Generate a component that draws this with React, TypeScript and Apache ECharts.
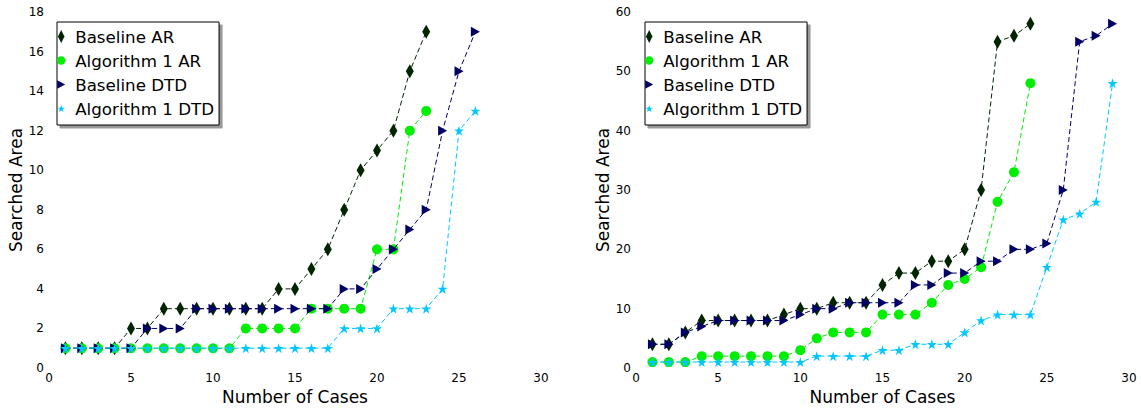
import React, { useEffect, useRef } from 'react';
import * as echarts from 'echarts';

const FONT = 'DejaVu Sans';

const seriesNames = ['Baseline AR', 'Algorithm 1 AR', 'Baseline DTD', 'Algorithm 1 DTD'];

// Left chart (values per case number 1..n)
const leftBaselineAR = [1, 1, 1, 1, 2, 2, 3, 3, 3, 3, 3, 3, 3, 4, 4, 5, 6, 8, 10, 11, 12, 15, 17];
const leftAlgorithmAR = [1, 1, 1, 1, 1, 1, 1, 1, 1, 1, 1, 2, 2, 2, 2, 3, 3, 3, 3, 6, 6, 12, 13];
const leftBaselineDTD = [1, 1, 1, 1, 1, 2, 2, 2, 3, 3, 3, 3, 3, 3, 3, 3, 3, 4, 4, 5, 6, 7, 8, 12, 15, 17];
const leftAlgorithmDTD = [1, 1, 1, 1, 1, 1, 1, 1, 1, 1, 1, 1, 1, 1, 1, 1, 1, 2, 2, 2, 3, 3, 3, 4, 12, 13];

// Right chart
const rightBaselineAR = [4, 4, 6, 8, 8, 8, 8, 8, 9, 10, 10, 11, 11, 11, 14, 16, 16, 18, 18, 20, 30, 55, 56, 58];
const rightAlgorithmAR = [1, 1, 1, 2, 2, 2, 2, 2, 2, 3, 5, 6, 6, 6, 9, 9, 9, 11, 14, 15, 17, 28, 33, 48];
const rightBaselineDTD = [4, 4, 6, 7, 8, 8, 8, 8, 8, 9, 10, 10, 11, 11, 11, 11, 14, 14, 16, 16, 18, 18, 20, 20, 21, 30, 55, 56, 58];
const rightAlgorithmDTD = [1, 1, 1, 1, 1, 1, 1, 1, 1, 1, 2, 2, 2, 2, 3, 3, 4, 4, 4, 6, 8, 9, 9, 9, 17, 25, 26, 28, 48];

// Axis ranges
const xAxisRange = { min: 0, max: 30, interval: 5 };
const leftYRange = { min: 0, max: 18, interval: 2 };
const rightYRange = { min: 0, max: 60, interval: 10 };

const COLORS = ['#002400', '#00ee00', '#000066', '#00c8ff'];
const diamondPath = 'path://M5,0 L10,10 L5,20 L0,10 Z';
const trianglePath = 'path://M0,0 L11,6 L0,12 Z';
const starShape =
  'M50,0 L61.2,34.5 L97.6,34.5 L68.2,55.9 L79.4,90.5 L50,69.1 L20.6,90.5 L31.8,55.9 L2.4,34.5 L38.8,34.5 Z';
const starPath = 'path://' + starShape;
const SYMBOLS = [diamondPath, 'circle', trianglePath, starPath];
const SIZES: any[] = [[8, 14], 10, [9, 10], 10];

// Legend icons: padded paths so that they keep the small size of the reference
const LEGEND_ICONS = [
  diamondPath,
  'path://M7,0 M7,13 M2.8,6.5 A4.2,4.2 0 1,1 11.2,6.5 A4.2,4.2 0 1,1 2.8,6.5 Z',
  'path://M7,0 M7,13 M3,2.2 L11,6.5 L3,10.8 Z',
  'path://M50,-36 M50,126.5 ' + starShape,
];

function makeSeries(name: string, values: number[], idx: number, axis: number) {
  return {
    type: 'line',
    name,
    xAxisIndex: axis,
    yAxisIndex: axis,
    data: values.map((v, i) => [i + 1, v]),
    symbol: SYMBOLS[idx],
    symbolSize: SIZES[idx],
    showSymbol: true,
    itemStyle: { color: COLORS[idx] },
    lineStyle: { color: COLORS[idx], width: 1, type: [5, 3] },
    z: 2 + idx,
  };
}

function makeLegend(left: number) {
  return {
    orient: 'vertical',
    left,
    top: 22,
    padding: [6, 5, 8, 0],
    itemWidth: 14,
    itemHeight: 13,
    itemGap: 7,
    backgroundColor: '#ffffff',
    borderColor: '#000000',
    borderWidth: 1,
    borderRadius: 0,
    shadowColor: 'rgba(0,0,0,0.4)',
    shadowOffsetX: 3,
    shadowOffsetY: 3,
    shadowBlur: 0,
    selectedMode: false,
    textStyle: { fontFamily: FONT, fontSize: 16.7, color: '#000', padding: [0, 0, 0, 2] },
    data: seriesNames.map((n, i) => ({ name: n, icon: LEGEND_ICONS[i] })),
  };
}

function makeXAxis(gridIndex: number) {
  return {
    type: 'value',
    gridIndex,
    ...xAxisRange,
    name: 'Number of Cases',
    nameLocation: 'middle',
    nameGap: 18,
    nameTextStyle: { fontFamily: FONT, fontSize: 17, color: '#000' },
    axisLine: { show: false },
    axisTick: { show: false },
    splitLine: { show: false },
    axisLabel: { fontFamily: FONT, fontSize: 12, color: '#000', margin: 4 },
  };
}

function makeYAxis(gridIndex: number, range: any) {
  return {
    type: 'value',
    gridIndex,
    ...range,
    name: 'Searched Area',
    nameLocation: 'middle',
    nameGap: 23,
    nameTextStyle: { fontFamily: FONT, fontSize: 17, color: '#000' },
    axisLine: { show: false },
    axisTick: { show: false },
    splitLine: { show: false },
    axisLabel: { fontFamily: FONT, fontSize: 12, color: '#000', margin: 5 },
  };
}

export default function App() {
  const ref = useRef<HTMLDivElement>(null);
  useEffect(() => {
    if (!ref.current) return;
    const chart = echarts.init(ref.current, undefined, { renderer: 'svg' });
    const leftData = [leftBaselineAR, leftAlgorithmAR, leftBaselineDTD, leftAlgorithmDTD];
    const rightData = [rightBaselineAR, rightAlgorithmAR, rightBaselineDTD, rightAlgorithmDTD];
    chart.setOption({
      animation: false,
      backgroundColor: '#ffffff',
      grid: [
        { left: 49, top: 12, width: 492, height: 356 },
        { left: 636, top: 12, width: 493, height: 356 },
      ],
      xAxis: [makeXAxis(0), makeXAxis(1)],
      yAxis: [makeYAxis(0, leftYRange), makeYAxis(1, rightYRange)],
      legend: [makeLegend(57), makeLegend(645)],
      series: [
        ...leftData.map((d, i) => makeSeries(seriesNames[i], d, i, 0)),
        ...rightData.map((d, i) => makeSeries(seriesNames[i], d, i, 1)),
      ],
    });
    return () => chart.dispose();
  }, []);
  return (
    <div
      ref={ref}
      style={{ position: 'absolute', left: 0, top: 0, width: 1141, height: 411, background: '#fff' }}
    />
  );
}
